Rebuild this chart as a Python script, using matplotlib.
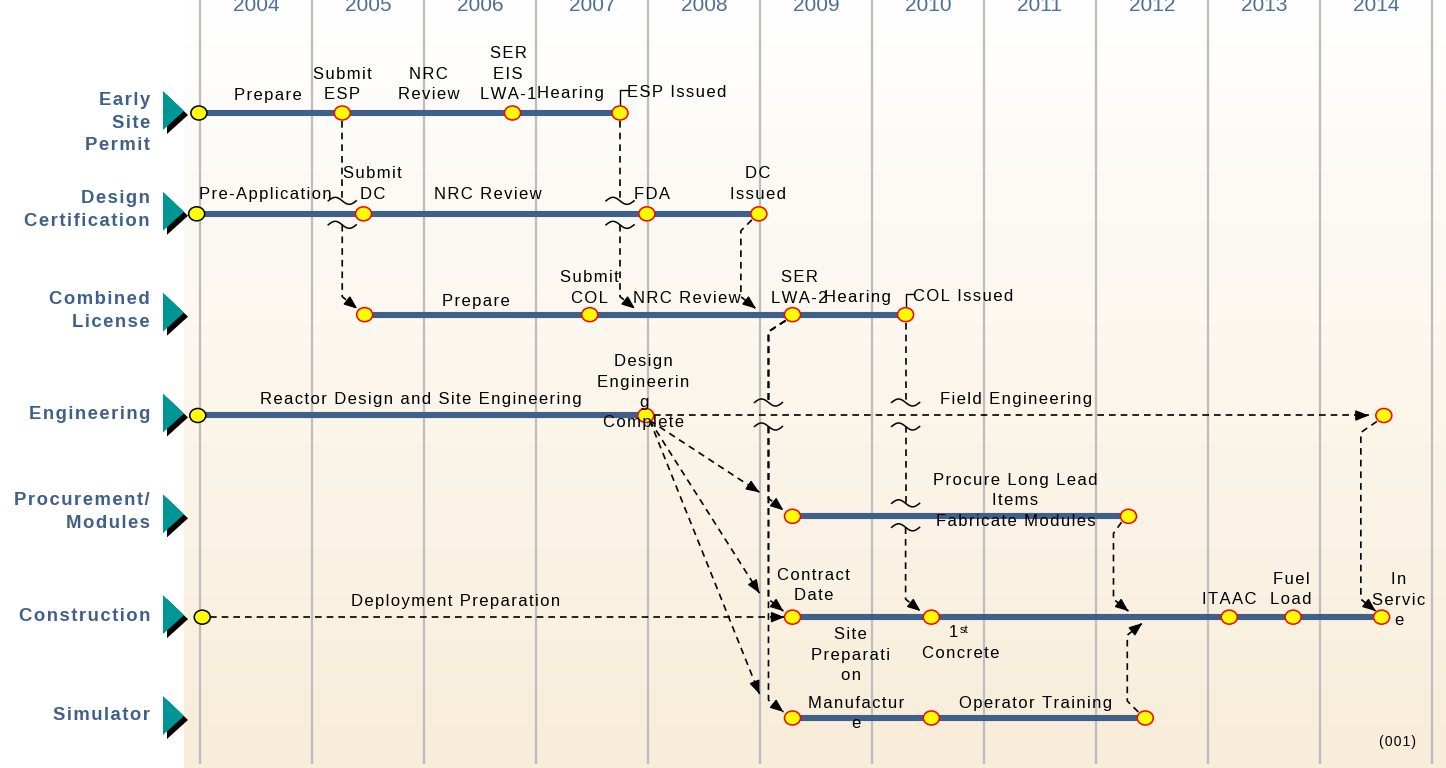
import numpy as np
import matplotlib.pyplot as plt
from matplotlib.patches import Ellipse, Polygon

plt.rcParams['font.family'] = ['Liberation Sans', 'DejaVu Sans']

# ---- data -------------------------------------------------------------
years = list(range(2004, 2015))
row_names = ['Early\nSite\nPermit', 'Design\nCertification', 'Combined\nLicense',
             'Engineering', 'Procurement/\nModules', 'Construction', 'Simulator']

# solid activity bars (row index, start year, end year)
bar_row = [0, 1, 2, 3, 4, 5, 6]
bar_start = [2003.99, 2003.97, 2005.47, 2003.98, 2009.29, 2009.29, 2009.29]
bar_end = [2007.75, 2008.99, 2010.30, 2007.98, 2012.29, 2014.55, 2012.44]

# milestones (row, year); "start" ones have a black rim
start_row = [0, 1, 3, 5]
start_year = [2003.99, 2003.97, 2003.98, 2004.02]
ms_row = [0, 0, 0,
          1, 1, 1,
          2, 2, 2, 2,
          3, 3,
          4, 4,
          5, 5, 5, 5, 5,
          6, 6, 6]
ms_year = [2005.27, 2006.79, 2007.75,
           2005.46, 2007.99, 2008.99,
           2005.47, 2007.48, 2009.29, 2010.30,
           2007.98, 2014.57,
           2009.29, 2012.29,
           2009.29, 2010.53, 2013.19, 2013.76, 2014.55,
           2009.29, 2010.53, 2012.44]

# milestone labels (row, year, text)
lab_row = [0, 0, 0, 0, 0,
           1, 1, 1, 1, 1,
           2, 2, 2, 2, 2,
           3, 3, 3,
           4, 4,
           5, 5, 5, 5, 5, 5, 5,
           6, 6]
lab_year = [2004.61, 2005.27, 2006.04, 2006.75, 2007.31,
            2004.58, 2005.54, 2006.57, 2008.04, 2008.98,
            2006.46, 2007.48, 2008.35, 2009.35, 2009.87,
            2005.97, 2007.96, 2011.29,
            2011.28, 2011.28,
            2006.28, 2009.48, 2009.81, 2010.79, 2013.19, 2013.74, 2014.70,
            2009.86, 2011.46]
lab_text = ['Prepare', 'Submit\nESP', 'NRC\nReview', 'SER\nEIS\nLWA-1', 'Hearing',
            'Pre-Application', 'Submit\nDC', 'NRC Review', 'FDA', 'DC\nIssued',
            'Prepare', 'Submit\nCOL', 'NRC Review', 'SER\nLWA-2', 'Hearing',
            'Reactor Design and Site Engineering', 'Design\nEngineerin\ng\nComplete',
            'Field Engineering',
            'Procure Long Lead\nItems', 'Fabricate Modules',
            'Deployment Preparation', 'Contract\nDate', 'Site\nPreparati\non', 'Concrete',
            'ITAAC', 'Fuel\nLoad', 'In\nServic\ne',
            'Manufactur\ne', 'Operator Training']
# bottom of each label, pixels above (+) or below (-) its row
lab_dy = [10, 11, 11, 11, 12,
          12, 12, 12, 12, 12,
          6, 9, 9, 9, 10,
          8, -15, 8,
          8, -13,
          8, 14, -66, -44, 10, 10, -11,
          -13, 7]

# issued labels with a small leader
iss_row = [0, 2]
iss_year = [2007.75, 2010.30]
iss_text = ['ESP Issued', 'COL Issued']

# dashed dependencies between rows
dep_src_row = [0, 0, 1, 2, 2, 2, 2, 4, 6, 3]
dep_src_year = [2005.27, 2007.75, 2008.99, 2009.29, 2009.29, 2009.29, 2010.30, 2012.29, 2012.44, 2014.57]
dep_dst_row = [2, 2, 2, 4, 5, 6, 5, 5, 5, 5]
dep_lane = [0, 0, -18, -24, -24, -24, 0, -15, -18, -23]
dep_breaks = [[1], [1], [], [3], [3], [3], [3, 4], [], [], []]

# fan-out from "Design Engineering Complete"
fan_dst_row = [4, 5, 6]
fan_src = (2007.98, 3)
target_year = 2009.29

# ---- layout -------------------------------------------------------------
X_PX = 1 / 112.0      # years per pixel
Y_PX = 1 / 100.83     # rows per pixel
X0 = 2004 - 200 * X_PX
Y0 = -113 * Y_PX
W, H = 1446, 768


def px(x):
    return X0 + x * X_PX


def py(y):
    return Y0 + y * Y_PX


def spaced(s):
    # the original uses wide letter spacing
    return '\n'.join('\u200a'.join(line) for line in s.split('\n'))


BAR = '#3f6189'
NAVY = '#3f6088'
YEARC = '#4b709b'
TEAL = '#009696'

fig = plt.figure(figsize=(W / 100, H / 100), dpi=100)
ax = fig.add_axes([0, 0, 1, 1])
ax.set_xlim(px(0), px(W))
ax.set_ylim(py(H), py(0))
ax.axis('off')

# background panel gradient
grad = np.linspace(0, 1, 256)[:, None]
top = np.array([255, 255, 255]) / 255
bot = np.array([248, 237, 217]) / 255
img = top + (bot - top) * grad[:, :, None]
img = np.repeat(img, 2, axis=1)
ax.imshow(img, extent=(px(184), px(W), py(H), py(0)), aspect='auto', zorder=0,
          interpolation='bilinear')

# year grid
ax.vlines(years + [2015], py(0), py(764), color='#bdbdbd', lw=1.6, zorder=1)
for y in years:
    ax.text(y + 0.5, py(11), str(y), ha='center', va='baseline', fontsize=15,
            color=YEARC, zorder=5)

# row headers and teal markers
rowlab_dy = [10, -4, -4, -1, -4, -1, -2]
for i, name in enumerate(row_names):
    ax.text(px(150), i + rowlab_dy[i] * Y_PX, spaced(name), ha='right', va='center',
            multialignment='right', fontsize=13.3, fontweight='bold', color=NAVY,
            linespacing=1.45, zorder=5)
    tri = [(px(163), i - 22 * Y_PX), (px(163), i + 17 * Y_PX), (px(184), i - 2 * Y_PX)]
    sh = [(a + 4 * X_PX, b + 4 * Y_PX) for a, b in tri]
    ax.add_patch(Polygon(sh, closed=True, fc='black', ec='none', zorder=2))
    ax.add_patch(Polygon(tri, closed=True, fc=TEAL, ec='none', zorder=3))

DASH = (0, (4, 3))


def head(p_from, tip):
    dx = (tip[0] - p_from[0]) / X_PX
    dy = (tip[1] - p_from[1]) / Y_PX
    n = np.hypot(dx, dy)
    back = (tip[0] - dx / n * 10 * X_PX, tip[1] - dy / n * 10 * Y_PX)
    ax.annotate('', xy=tip, xytext=back, zorder=4,
                arrowprops=dict(arrowstyle='-|>,head_length=0.8,head_width=0.32',
                                color='black', lw=1, shrinkA=0, shrinkB=0))


def dashed(pts):
    xs, ys = zip(*pts)
    ax.plot(xs, ys, color='black', lw=1.2, ls=DASH, zorder=2)


# bars
for r, s, e in zip(bar_row, bar_start, bar_end):
    ax.plot([s, e], [r, r], color=BAR, lw=4.4, solid_capstyle='butt', zorder=3)

# long dashed activities
fe_tip = (ms_year[11] - 15 * X_PX, 3)
dashed([(fan_src[0] + 8 * X_PX, 3), fe_tip])
head((fan_src[0], 3), fe_tip)
dp_tip = (target_year - 8 * X_PX, 5)
dashed([(start_year[3] + 8 * X_PX, 5), dp_tip])
head((start_year[3], 5), dp_tip)

# fan-out arrows
for r in fan_dst_row:
    tip = (target_year - 33 * X_PX, r - 24 * Y_PX)
    a = (fan_src[0] + 4 * X_PX, fan_src[1] + 5 * Y_PX)
    dashed([a, tip])
    head(a, tip)

# dependencies with break marks
tildes = set()
for sx, sr, dr, lane_px, brk in zip(dep_src_year, dep_src_row, dep_dst_row, dep_lane, dep_breaks):
    d = 1 if dr > sr else -1
    lane = sx + lane_px * X_PX
    if lane_px == 0:
        poly = [(sx, sr + d * 8 * Y_PX)]
    else:
        poly = [(sx - 7 * X_PX, sr + d * 6 * Y_PX), (lane, sr + d * 17 * Y_PX)]
    for r in brk:
        poly.append((lane, r - 13 * Y_PX))
        dashed(poly)
        poly = [(lane, r + 11 * Y_PX)]
        tildes.add((round(lane, 4), r))
    end = (lane, dr - d * 18 * Y_PX)
    tip = (lane + 15 * X_PX, dr - d * 6 * Y_PX)
    poly += [end, tip]
    dashed(poly)
    head(end, tip)

t = np.linspace(0, 1, 40)
for lane, r in tildes:
    for off in (-13, 11):
        ax.plot(lane + (t - 0.5) * 28 * X_PX, r + off * Y_PX - 3.5 * np.sin(2 * np.pi * t) * Y_PX,
                color='black', lw=1.1, zorder=3)

# milestones
EW, EH = 16 * X_PX, 14 * Y_PX
for r, x in zip(start_row, start_year):
    ax.add_patch(Ellipse((x, r), EW, EH, fc='#ffff00', ec='black', lw=1.1, zorder=4))
for r, x in zip(ms_row, ms_year):
    ax.add_patch(Ellipse((x, r), EW, EH, fc='#ffff00', ec='#ff0000', lw=1.1, zorder=4))

# labels
for r, x, s, dy in zip(lab_row, lab_year, lab_text, lab_dy):
    ax.annotate(spaced(s), (x, r), xytext=(0, dy), textcoords='offset pixels', ha='center',
                va='bottom', fontsize=12, linespacing=1.45, zorder=6)
ax.annotate('1', (2010.53, 5), xytext=(27, -23), textcoords='offset pixels',
            ha='right', va='bottom', fontsize=12, zorder=6)
ax.annotate('st', (2010.53, 5), xytext=(28, -8), textcoords='offset pixels',
            ha='left', va='top', fontsize=8, zorder=6)

for r, x, s in zip(iss_row, iss_year, iss_text):
    lead = 23 if r == 0 else 21
    ax.plot([x, x, x + 8 * X_PX], [r - 7 * Y_PX, r - lead * Y_PX, r - lead * Y_PX],
            color='black', lw=1, zorder=3)
    ax.annotate(spaced(s), (x, r), xytext=(7, lead - 10), textcoords='offset pixels',
                ha='left', va='bottom', fontsize=12, zorder=6)

ax.text(2014.69, 6 + 24 * Y_PX, spaced('(001)'), ha='center', va='center', fontsize=10, zorder=6)

fig.savefig('out.png', dpi=100)
